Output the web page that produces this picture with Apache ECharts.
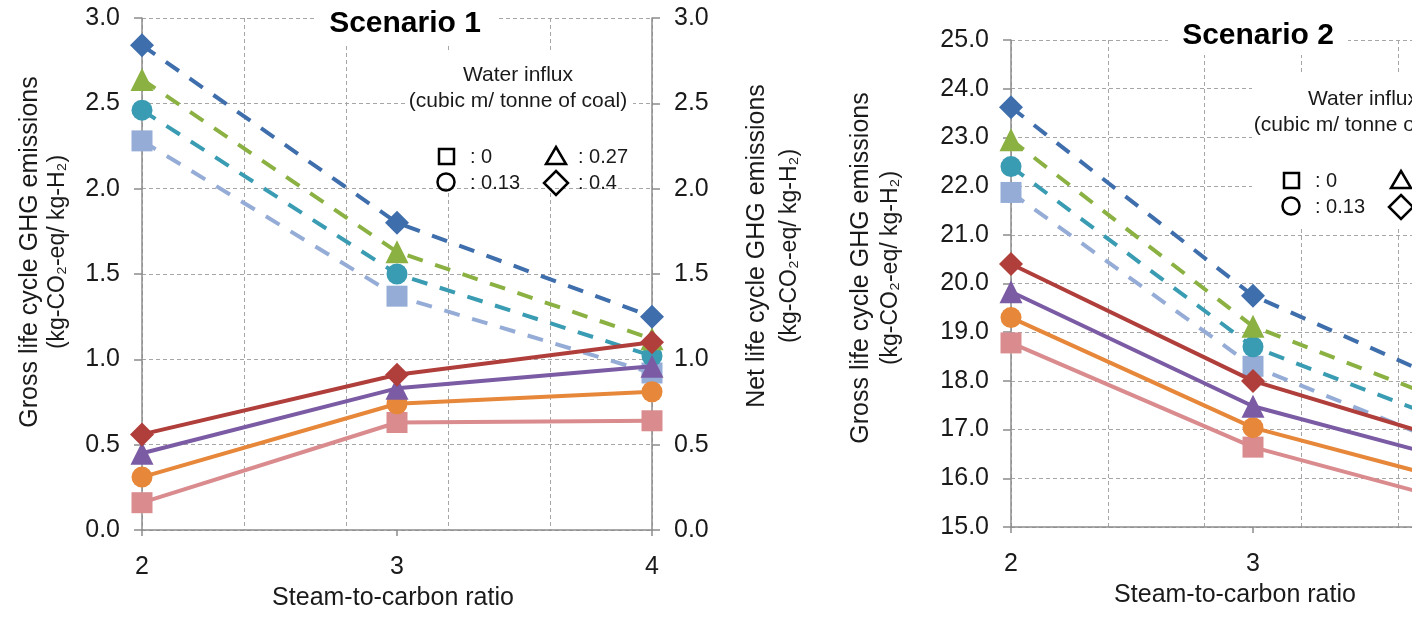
<!DOCTYPE html>
<html>
<head>
<meta charset="utf-8">
<script src="https://cdn.jsdelivr.net/npm/echarts@6.0.0/dist/echarts.min.js"></script>
<style>
  html, body { margin: 0; padding: 0; background: #fff; }
  #main { width: 1412px; height: 617px; }
</style>
</head>
<body>
<div id="main"></div>
<script type="text/javascript">
// steam-to-carbon ratio
var xValues = [2, 3, 4];

// Scenario 1 - gross (dashed) and net (solid)
var s1GrossDiamond = [2.84, 1.80, 1.25];
var s1GrossTriangle = [2.64, 1.63, 1.12];
var s1GrossCircle = [2.46, 1.50, 1.02];
var s1GrossSquare = [2.28, 1.37, 0.92];
var s1NetDiamond = [0.56, 0.91, 1.10];
var s1NetTriangle = [0.45, 0.83, 0.96];
var s1NetCircle = [0.31, 0.74, 0.81];
var s1NetSquare = [0.16, 0.63, 0.64];

// Scenario 2
var s2GrossDiamond = [23.62, 19.75, 17.55];
var s2GrossTriangle = [22.95, 19.12, 17.20];
var s2GrossCircle = [22.40, 18.70, 16.80];
var s2GrossSquare = [21.87, 18.30, 16.30];
var s2NetDiamond = [20.40, 18.00, 16.50];
var s2NetTriangle = [19.83, 17.48, 16.15];
var s2NetCircle = [19.30, 17.04, 15.72];
var s2NetSquare = [18.78, 16.64, 15.30];

var legendLabels = [': 0', ': 0.13', ': 0.27', ': 0.4'];

var FONT = "'Liberation Sans', Arial, sans-serif";
var grossColors = ['#3F6EAC', '#8AB142', '#3A9CB3', '#95ACD7'];
var netColors = ['#B03E3B', '#7A5BA4', '#E6873A', '#D98B8E'];
var symbols = ['diamond', 'triangle', 'circle', 'rect'];
var symbolSizes = [24, 23, 21, 21];

function pairs(arr) {
    var out = [];
    for (var i = 0; i < xValues.length; i++) {
        out.push([xValues[i], arr[i]]);
    }
    return out;
}

function line(data, xi, yi, k, dashed) {
    var color = dashed ? grossColors[k] : netColors[k];
    return {
        type: 'line',
        xAxisIndex: xi,
        yAxisIndex: yi,
        data: pairs(data),
        symbol: symbols[k],
        symbolSize: symbolSizes[k],
        showAllSymbol: true,
        lineStyle: { color: color, width: 4, type: dashed ? [16, 13] : 'solid' },
        itemStyle: { color: color },
        z: dashed ? 2 : 3,
        animation: false
    };
}

var gridLine = { show: true, lineStyle: { color: '#a6a6a6', type: [4, 3], width: 1 } };
var axisGray = { show: true, lineStyle: { color: '#8c8c8c', width: 1.5 } };
var tickFont = { fontFamily: FONT, fontSize: 25, color: '#1a1a1a' };

function xAxes(grid, namePad) {
    return [{
        type: 'value', gridIndex: grid, min: 2, max: 4, interval: 0.4,
        axisLine: axisGray, axisTick: { show: false }, axisLabel: { show: false },
        splitLine: gridLine
    }, {
        type: 'value', gridIndex: grid, min: 2, max: 4, interval: 1, position: 'bottom',
        axisLine: { show: false }, splitLine: { show: false },
        axisTick: { show: true, length: 6, lineStyle: { color: '#8c8c8c', width: 1.5 } },
        axisLabel: Object.assign({ margin: 25 }, tickFont),
        name: 'Steam-to-carbon ratio', nameLocation: 'middle', nameGap: 56,
        nameTextStyle: { fontFamily: FONT, fontSize: 25, color: '#1a1a1a', padding: namePad }
    }];
}

function yAxis(grid, pos, min, max, interval, split) {
    return {
        type: 'value', gridIndex: grid, position: pos, min: min, max: max, interval: interval,
        axisLine: axisGray,
        axisTick: { show: true, length: 8, lineStyle: { color: '#8c8c8c', width: 1.5 } },
        axisLabel: Object.assign({ margin: 22, formatter: function (v) { return v.toFixed(1); } }, tickFont),
        splitLine: split ? gridLine : { show: false }
    };
}

// legend block (drawn as plain shapes, white box hides grid lines)
function legend(dx, dy, box) {
    var st = { fill: 'none', stroke: '#000', lineWidth: 2.5 };
    var tx = function (text, x, y, size, align) {
        return {
            type: 'text', x: x, y: y, z: 10,
            style: { text: text, font: size + 'px ' + FONT, fill: '#1a1a1a',
                     textAlign: align, textVerticalAlign: 'middle', align: align, verticalAlign: 'middle' }
        };
    };
    return [
        { type: 'rect', z: 1, shape: box, style: { fill: '#fff' } },
        tx('Water influx', 518 + dx, 75 + dy, 21, 'center'),
        tx('(cubic m/ tonne of coal)', 518 + dx, 101 + dy, 21, 'center'),
        { type: 'rect', z: 10, shape: { x: 439 + dx, y: 149 + dy, width: 15, height: 15 }, style: st },
        { type: 'circle', z: 10, shape: { cx: 446 + dx, cy: 182 + dy, r: 8.5 }, style: st },
        { type: 'polygon', z: 10, shape: { points: [[556 + dx, 147 + dy], [566 + dx, 164 + dy], [546 + dx, 164 + dy]] }, style: st },
        { type: 'polygon', z: 10, shape: { points: [[556 + dx, 171 + dy], [568 + dx, 183 + dy], [556 + dx, 195 + dy], [544 + dx, 183 + dy]] }, style: st },
        tx(legendLabels[0], 470 + dx, 157 + dy, 20, 'left'),
        tx(legendLabels[1], 470 + dx, 183 + dy, 20, 'left'),
        tx(legendLabels[2], 578 + dx, 157 + dy, 20, 'left'),
        tx(legendLabels[3], 578 + dx, 183 + dy, 20, 'left')
    ];
}

function title(text, cx, cy, box) {
    return [
        { type: 'rect', z: 1, shape: box, style: { fill: '#fff' } },
        { type: 'text', x: cx, y: cy, z: 10,
          style: { text: text, font: 'bold 30px ' + FONT, fill: '#000',
                   textAlign: 'center', textVerticalAlign: 'middle', align: 'center', verticalAlign: 'middle' } }
    ];
}

function yName(l1, l2, x1, x2, cy) {
    var mk = function (t, x, size) {
        return {
            type: 'text', x: x, y: cy, rotation: Math.PI / 2, z: 10,
            style: { text: t, font: size + 'px ' + FONT, fill: '#1a1a1a',
                     textAlign: 'center', textVerticalAlign: 'middle', align: 'center', verticalAlign: 'middle' }
        };
    };
    return [mk(l1, x1, 25), mk(l2, x2, 23)];
}

var unit = '(kg-CO\u2082-eq/ kg-H\u2082)';

var myChart = echarts.init(document.getElementById('main'));
var option = {
    backgroundColor: '#fff',
    animation: false,
    grid: [
        { left: 142, top: 18, width: 510, height: 512, outerBoundsMode: 'none', containLabel: false },
        { left: 1011, top: 40, width: 484, height: 487, outerBoundsMode: 'none', containLabel: false }
    ],
    xAxis: xAxes(0, [0, 8, 0, 0]).concat(xAxes(1, [0, 36, 0, 0])),
    yAxis: [
        yAxis(0, 'left', 0, 3, 0.5, true),
        yAxis(0, 'right', 0, 3, 0.5, false),
        yAxis(1, 'left', 15, 25, 1, true)
    ],
    series: [
        line(s1GrossSquare, 0, 0, 3, true),
        line(s1GrossCircle, 0, 0, 2, true),
        line(s1GrossTriangle, 0, 0, 1, true),
        line(s1GrossDiamond, 0, 0, 0, true),
        line(s1NetSquare, 0, 1, 3, false),
        line(s1NetCircle, 0, 1, 2, false),
        line(s1NetTriangle, 0, 1, 1, false),
        line(s1NetDiamond, 0, 1, 0, false),
        line(s2GrossSquare, 2, 2, 3, true),
        line(s2GrossCircle, 2, 2, 2, true),
        line(s2GrossTriangle, 2, 2, 1, true),
        line(s2GrossDiamond, 2, 2, 0, true),
        line(s2NetSquare, 2, 2, 3, false),
        line(s2NetCircle, 2, 2, 2, false),
        line(s2NetTriangle, 2, 2, 1, false),
        line(s2NetDiamond, 2, 2, 0, false)
    ],
    graphic: [].concat(
        title('Scenario 1', 405, 24, { x: 317, y: 4, width: 181, height: 41 }),
        title('Scenario 2', 1258, 36, { x: 1168, y: 16, width: 180, height: 39 }),
        legend(0, 0, { x: 407, y: 50, width: 226, height: 138 }),
        legend(845, 24, { x: 1252, y: 74, width: 170, height: 152 }),
        yName('Gross life cycle GHG emissions', unit, 30, 58, 252),
        yName('Net life cycle GHG emissions', unit, 757, 790, 246),
        yName('Gross life cycle GHG emissions', unit, 861, 891, 268)
    )
};
myChart.setOption(option);
</script>
</body>
</html>
